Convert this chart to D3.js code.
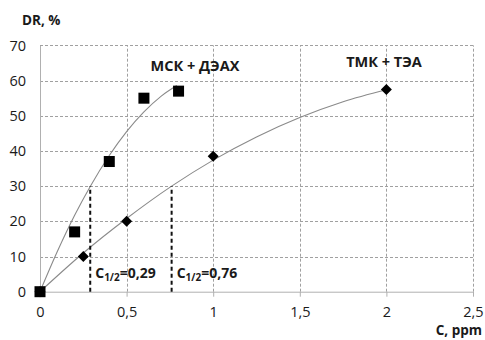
<!DOCTYPE html>
<html>
<head>
<meta charset="utf-8">
<script src="https://cdn.jsdelivr.net/npm/d3@7"></script>
<style>
  body { margin: 0; background: #fff; }
  text { font-family: "Open Sans", "DejaVu Sans", sans-serif; fill: #1a1a1a; }
  .axis path, .axis line { stroke: #b0b0b0; }
  .bold { font-weight: bold; }
</style>
</head>
<body>
<div class="chart"></div>
<script>
// measured points
var mskC  = [0, 0.2, 0.4, 0.6, 0.8];
var mskDR = [0, 17, 37, 55, 57];
var tmkC  = [0, 0.25, 0.5, 1, 2];
var tmkDR = [0, 10, 20, 38.5, 57.5];

// trend lines
var mskTrendC  = [0, 0.1, 0.2, 0.29, 0.4, 0.5, 0.6, 0.7, 0.79];
var mskTrendDR = [0, 11.4, 21.7, 29.9, 38.7, 45.5, 51.1, 55.6, 58.6];
var tmkTrendC  = [0, 0.25, 0.5, 0.76, 1, 1.25, 1.5, 1.75, 2];
var tmkTrendDR = [0, 11, 20.8, 30, 37.4, 44, 49.5, 54, 57.4];

// half-effect concentrations
var halfC = [0.29, 0.76];
var halfDR = [30, 30];
var halfLabels = ["0,29", "0,76"];

var xTicks = [0, 0.5, 1, 1.5, 2, 2.5];
var yTicks = [0, 10, 20, 30, 40, 50, 60, 70];

var width = 485, height = 340;
var margin = {top: 45.4, right: 12, bottom: 48.3, left: 40};

var svg = d3.select(".chart").append("svg")
    .attr("width", width)
    .attr("height", height);

const x = d3.scaleLinear().domain([0, 2.5]).range([margin.left, width - margin.right]);
const y = d3.scaleLinear().domain([0, 70]).range([height - margin.bottom, margin.top]);

const fmt = d => String(d).replace(".", ",");

// grid
const grid = svg.append("g").attr("class", "grid")
    .attr("stroke", "#a0a0a0")
    .attr("stroke-width", 1)
    .attr("stroke-dasharray", "3,2");
grid.selectAll(".gy").data(yTicks.slice(1)).enter().append("line")
    .attr("class", "gy")
    .attr("x1", x(0)).attr("x2", x(2.5))
    .attr("y1", d => Math.round(y(d)) + 0.5).attr("y2", d => Math.round(y(d)) + 0.5);
grid.selectAll(".gx").data(xTicks.slice(1)).enter().append("line")
    .attr("class", "gx")
    .attr("x1", d => Math.round(x(d)) + 0.5).attr("x2", d => Math.round(x(d)) + 0.5)
    .attr("y1", y(0)).attr("y2", y(70));

// axes
svg.append("g")
    .attr("class", "axis x-axis")
    .attr("transform", `translate(0, ${y(0)})`)
    .call(d3.axisBottom(x).tickValues(xTicks).tickFormat(fmt).tickSize(5).tickSizeOuter(0).tickPadding(10))
    .call(g => g.selectAll("text").attr("font-size", 14.5).attr("fill", "#1a1a1a"));

svg.append("g")
    .attr("class", "axis y-axis")
    .attr("transform", `translate(${x(0)}, 0)`)
    .call(d3.axisLeft(y).tickValues(yTicks).tickSize(0).tickPadding(14))
    .call(g => g.selectAll("text").attr("font-size", 14.5).attr("fill", "#1a1a1a"));

// trend lines
const line = d3.line().x(d => x(d[0])).y(d => y(d[1])).curve(d3.curveMonotoneX);
[[mskTrendC, mskTrendDR], [tmkTrendC, tmkTrendDR]].forEach(function(s) {
    svg.append("path")
        .datum(d3.zip(s[0], s[1]))
        .attr("d", line)
        .attr("fill", "none")
        .attr("stroke", "#8a8a8a")
        .attr("stroke-width", 1.1);
});

// half-value dashed lines
svg.selectAll(".half").data(halfC).enter().append("line")
    .attr("class", "half")
    .attr("x1", d => x(d)).attr("x2", d => x(d))
    .attr("y1", y(0)).attr("y2", (d, i) => y(halfDR[i]))
    .attr("stroke", "#111")
    .attr("stroke-width", 2)
    .attr("stroke-dasharray", "4,3");

svg.selectAll(".half-label").data(halfC).enter().append("text")
    .attr("class", "half-label bold")
    .attr("x", d => x(d) + 5)
    .attr("y", y(3.9))
    .attr("font-size", 14)
    .each(function(d, i) {
        const t = d3.select(this);
        t.append("tspan").text("C");
        t.append("tspan").attr("font-size", 10).attr("dy", 3).text("1/2");
        t.append("tspan").attr("dy", -3).text("=" + halfLabels[i]);
    });

// markers
svg.selectAll(".sq").data(d3.zip(mskC, mskDR)).enter().append("rect")
    .attr("class", "sq")
    .attr("x", d => x(d[0]) - 5.5)
    .attr("y", d => y(d[1]) - 5.5)
    .attr("width", 11).attr("height", 11)
    .attr("fill", "#000");

svg.selectAll(".dm").data(d3.zip(tmkC, tmkDR)).enter().append("path")
    .attr("class", "dm")
    .attr("transform", d => `translate(${x(d[0])},${y(d[1])})`)
    .attr("d", "M0,-5.5L5.5,0L0,5.5L-5.5,0Z")
    .attr("fill", "#000");

// titles
svg.append("text").attr("class", "bold").attr("x", 22).attr("y", 25)
    .attr("font-size", 13.5).text("DR, %");
svg.append("text").attr("class", "bold").attr("x", 482).attr("y", 335)
    .attr("text-anchor", "end").attr("font-size", 13.5).text("C, ppm");
svg.append("text").attr("class", "bold").attr("x", 195).attr("y", 71)
    .attr("text-anchor", "middle").attr("font-size", 14.5).text("МСК + ДЭАХ");
svg.append("text").attr("class", "bold").attr("x", 384).attr("y", 67)
    .attr("text-anchor", "middle").attr("font-size", 14.5).text("ТМК + ТЭА");
</script>
</body>
</html>
